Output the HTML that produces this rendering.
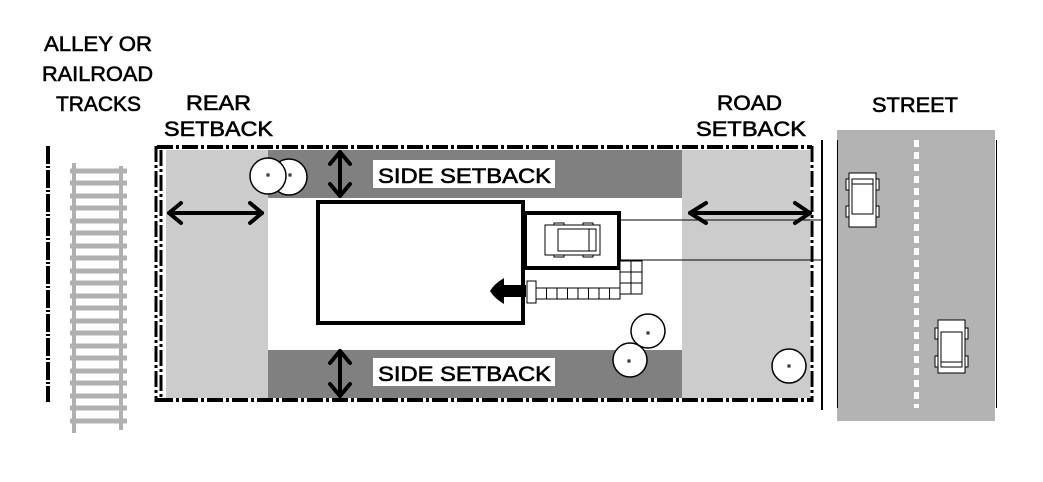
<!DOCTYPE html>
<html><head><meta charset="utf-8"><style>
html,body{margin:0;padding:0;background:#fff;}
svg{display:block;}
text{font-family:"Liberation Sans",sans-serif;font-size:21px;fill:#000;stroke:#000;stroke-width:0.6;}
</style></head><body>
<svg width="1043" height="482" viewBox="0 0 1043 482" xmlns="http://www.w3.org/2000/svg">
<text x="44" y="51" textLength="108" lengthAdjust="spacingAndGlyphs">ALLEY OR</text>
<text x="42" y="81" textLength="111" lengthAdjust="spacingAndGlyphs">RAILROAD</text>
<text x="56" y="111" textLength="85" lengthAdjust="spacingAndGlyphs">TRACKS</text>
<text x="186" y="110" textLength="65" lengthAdjust="spacingAndGlyphs">REAR</text>
<text x="164" y="136" textLength="109" lengthAdjust="spacingAndGlyphs">SETBACK</text>
<text x="717" y="110" textLength="65" lengthAdjust="spacingAndGlyphs">ROAD</text>
<text x="696" y="136" textLength="110" lengthAdjust="spacingAndGlyphs">SETBACK</text>
<text x="872" y="112" textLength="86" lengthAdjust="spacingAndGlyphs">STREET</text>

<line x1="48" y1="146" x2="48" y2="402" stroke="#000" stroke-width="4" stroke-dasharray="18,2,2,2"/>
<g fill="#b0b0b0">
<rect x="72" y="163" width="4" height="270"/>
<rect x="119" y="166" width="4" height="264"/>
</g>
<g stroke="#b0b0b0" stroke-width="5">
<line x1="70" y1="171" x2="127" y2="171"/><line x1="70" y1="183" x2="127" y2="183"/><line x1="70" y1="196" x2="127" y2="196"/><line x1="70" y1="208" x2="127" y2="208"/><line x1="70" y1="221" x2="127" y2="221"/><line x1="70" y1="233" x2="127" y2="233"/><line x1="70" y1="246" x2="127" y2="246"/><line x1="70" y1="258" x2="127" y2="258"/><line x1="70" y1="271" x2="127" y2="271"/><line x1="70" y1="283" x2="127" y2="283"/><line x1="70" y1="296" x2="127" y2="296"/><line x1="70" y1="308" x2="127" y2="308"/><line x1="70" y1="321" x2="127" y2="321"/><line x1="70" y1="333" x2="127" y2="333"/><line x1="70" y1="346" x2="127" y2="346"/><line x1="70" y1="358" x2="127" y2="358"/><line x1="70" y1="371" x2="127" y2="371"/><line x1="70" y1="383" x2="127" y2="383"/><line x1="70" y1="396" x2="127" y2="396"/><line x1="70" y1="408" x2="127" y2="408"/><line x1="70" y1="421" x2="127" y2="421"/>
</g>

<rect x="166" y="150" width="644" height="248" fill="#fff"/>
<rect x="166" y="150" width="102" height="248" fill="#cccccc"/>
<rect x="682" y="150" width="128" height="248" fill="#cccccc"/>
<rect x="268" y="150" width="414" height="48" fill="#808080"/>
<rect x="268" y="350" width="414" height="48" fill="#808080"/>
<rect x="373" y="160" width="182" height="28" fill="#fff"/>
<rect x="373" y="358" width="182" height="28" fill="#fff"/>
<text x="378" y="183" textLength="173" lengthAdjust="spacingAndGlyphs">SIDE SETBACK</text>
<text x="378" y="381" textLength="173" lengthAdjust="spacingAndGlyphs">SIDE SETBACK</text>

<g fill="none" stroke="#000" stroke-dasharray="16,3,3,3">
<line x1="157" y1="147" x2="812" y2="147" stroke-width="4"/>
<line x1="157" y1="400" x2="812" y2="400" stroke-width="4"/>
<line x1="156" y1="146" x2="156" y2="402" stroke-width="3"/>
<line x1="161" y1="150" x2="161" y2="398" stroke-width="3"/>
<line x1="812" y1="146" x2="812" y2="402" stroke-width="3"/>
</g>
<line x1="822" y1="140" x2="822" y2="410" stroke="#000" stroke-width="2"/>

<line x1="620" y1="220" x2="822" y2="220" stroke="#000" stroke-width="1"/>
<line x1="620" y1="260" x2="822" y2="260" stroke="#000" stroke-width="1"/>

<rect x="318" y="202" width="205" height="121" fill="#fff" stroke="#000" stroke-width="4"/>
<rect x="525" y="213" width="94" height="55" fill="#fff" stroke="#000" stroke-width="4"/>
<g fill="#fff" stroke="#000" stroke-width="1">
<rect x="554" y="223" width="10" height="3"/><rect x="583" y="223" width="10" height="3"/>
<rect x="554" y="254" width="10" height="3"/><rect x="583" y="254" width="10" height="3"/>
<rect x="545" y="225" width="55" height="30"/>
<rect x="558" y="229" width="38" height="22"/>
<line x1="589" y1="229" x2="589" y2="251"/>
</g>
<g fill="#fff" stroke="#000" stroke-width="1">
<rect x="620" y="261" width="11" height="11"/><rect x="631" y="261" width="11" height="11"/>
<rect x="620" y="272" width="11" height="11"/><rect x="631" y="272" width="11" height="11"/>
<rect x="620" y="283" width="11" height="11"/><rect x="631" y="283" width="11" height="11"/>
<rect x="536" y="288" width="10.5" height="11"/><rect x="546.5" y="288" width="10.5" height="11"/><rect x="557" y="288" width="10.5" height="11"/><rect x="567.5" y="288" width="10.5" height="11"/><rect x="578" y="288" width="10.5" height="11"/><rect x="588.5" y="288" width="10.5" height="11"/><rect x="599" y="288" width="10.5" height="11"/><rect x="609.5" y="288" width="10.5" height="11"/>
<rect x="527" y="281" width="9" height="22"/>
</g>
<path d="M490,291 Q494,284 504,278 L504,285 L526,285 L526,297 L504,297 L504,304 Q494,298 490,291 Z" fill="#000"/>

<g stroke="#000" stroke-width="4" fill="none" stroke-linecap="round" stroke-linejoin="round">
<line x1="169" y1="213" x2="262" y2="213"/>
<polyline points="181,203 169,213 181,223"/><polyline points="250,203 262,213 250,223"/>
<line x1="690" y1="213" x2="810" y2="213"/>
<polyline points="706,203 690,213 706,223"/><polyline points="795,203 810,213 795,223"/>
<line x1="340" y1="152" x2="340" y2="196"/>
<polyline points="330,164 340,152 350,164"/><polyline points="330,184 340,196 350,184"/>
<line x1="340" y1="351" x2="340" y2="396"/>
<polyline points="330,363 340,351 350,363"/><polyline points="330,384 340,396 350,384"/>
</g>

<g fill="#fff" stroke="#000" stroke-width="1.5">
<circle cx="289" cy="177" r="18"/><circle cx="268" cy="176" r="18"/>
<circle cx="630" cy="360" r="17"/><circle cx="648" cy="331" r="17"/>
<circle cx="789" cy="366" r="17"/>
</g>
<g fill="none" stroke="#000" stroke-width="1">
<rect x="267" y="174" width="2" height="2"/><rect x="289" y="174" width="2" height="2"/>
<rect x="647" y="332" width="2" height="2"/><rect x="628" y="360" width="2" height="2"/><rect x="788" y="365" width="2" height="2"/>
</g>

<rect x="837" y="130" width="158" height="291" fill="#b3b3b3"/>
<line x1="837.5" y1="140" x2="837.5" y2="408" stroke="#000" stroke-width="1"/>
<line x1="996.5" y1="140" x2="996.5" y2="408" stroke="#000" stroke-width="1"/>
<line x1="916.5" y1="140" x2="916.5" y2="408" stroke="#fff" stroke-width="5" stroke-dasharray="7,5"/>
<g fill="#fff" stroke="#000" stroke-width="1">
<rect x="846" y="179" width="4" height="11"/><rect x="875" y="179" width="4" height="11"/>
<rect x="846" y="206" width="4" height="11"/><rect x="875" y="206" width="4" height="11"/>
<rect x="849" y="173" width="27" height="54"/>
<rect x="852" y="184" width="21" height="30"/>
<rect x="852" y="179" width="21" height="5"/>
<rect x="935" y="328" width="4" height="11"/><rect x="964" y="328" width="4" height="11"/>
<rect x="935" y="356" width="4" height="11"/><rect x="964" y="356" width="4" height="11"/>
<rect x="938" y="320" width="27" height="53"/>
<rect x="941" y="332" width="21" height="30"/>
<rect x="941" y="362" width="21" height="5"/>
</g>
</svg>
</body></html>
